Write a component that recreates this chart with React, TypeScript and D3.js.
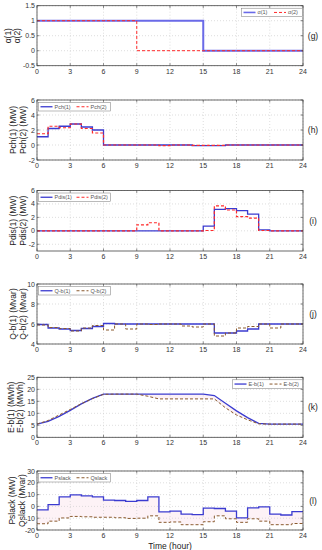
import React from "react";
import * as d3 from "d3";

const hours = d3.range(0, 25);
const xTicks = [0, 3, 6, 9, 12, 15, 18, 21, 24];

// (g)
const alpha1 = [1,1,1,1,1,1,1,1,1,1,1,1,1,1,1,0,0,0,0,0,0,0,0,0];
const alpha2 = [1,1,1,1,1,1,1,1,1,0,0,0,0,0,0,0,0,0,0,0,0,0,0,0];
// (h)
const pch1 = [1.1,2.2,2.5,2.8,2.4,2.0,0,0,0,0,0,0,0,0,-0.08,-0.08,-0.08,0,0,0,0,0,0,0];
const pch2 = [1.5,2.5,2.3,2.8,2.2,1.6,0,0,0,0,0,-0.08,0,0,-0.04,-0.04,-0.04,0,0,0,0,0,0,0];
// (i)
const pdis1 = [0,0,0,0,0,0,0,0,0,0,0,0,0,0,0,0.7,3.2,3.3,3.0,2.5,0.15,0,0,0];
const pdis2 = [0,0,0,0,0,0,0,0,0,0.9,1.2,0,0,0,0,0.05,3.7,3.1,2.1,1.9,0.05,0,0,0];
// (j)
const qb1 = [5.95,5.6,5.5,5.35,5.55,5.75,6.05,6.0,6.0,6.0,6.0,6.0,6.0,6.0,6.0,6.0,5.1,5.1,5.3,5.5,6.0,6.0,6.0,6.0];
const qb2 = [5.9,5.65,5.55,5.3,5.6,5.85,5.4,6.0,5.5,6.0,5.95,6.0,6.0,5.8,5.7,6.0,4.8,5.1,5.6,5.75,6.0,5.6,6.0,6.0];
// (k) values at each hour 0..24
const eb1 = [5.5,6.6,8.7,11.2,13.9,16.2,18,18,18,18,18,18,18,18,18,18,17.4,14.2,11.0,8.2,5.8,5.5,5.5,5.5,5.5];
const eb2 = [5.5,7.0,9.3,11.6,14.0,16.1,17.9,18,18,18,17.1,16,16,16,16,16,16,12.3,9.3,7.3,5.6,5.5,5.5,5.5,5.5];
// (l)
const pslack = [-3,1.5,8,9.8,9,8,5.4,5,4.3,5,8,-4.6,-4,-6.5,-7,-1.5,-1.8,-4,-9.8,-1.2,-0.4,-6.5,-7.3,-4.5];
const qslack = [-14.7,-12.5,-9.8,-8.5,-8.8,-9.2,-9.2,-9.6,-10.2,-10,-8,-13.5,-13.2,-15.5,-15.5,-13,-8,-10.5,-13.5,-10.5,-12.5,-15.5,-15.5,-14.5];

const FONT = "'Liberation Sans', Arial, sans-serif";
const X0 = 37, X1 = 303;

type Series = { name: string; values: number[]; color: string; dash?: string; width: number; step: boolean };
type PanelCfg = {
  top: number; bottom: number; domain: [number, number]; yTicks: number[];
  yLabels: [string, string]; labelX: [number, number]; tag: string;
  series: Series[]; legendRight: boolean; legendW: number; fill?: boolean; xTitle?: boolean;
};

const BLUE = "#3b3bd0";
const RED = "#ff2a2a";
const BROWN = "#8a5a2e";

const panels: PanelCfg[] = [
  { top: 5.7, bottom: 65.7, domain: [-0.5, 1.5], yTicks: [-0.5, 0, 0.5, 1, 1.5], yLabels: ["\u03b1(1)", "\u03b1(2)"], labelX: [8, 17], tag: "(g)", legendRight: true, legendW: 61,
    series: [ { name: "\u03b1(1)", values: alpha1, color: "#6a6ae8", width: 2, step: true }, { name: "\u03b1(2)", values: alpha2, color: RED, dash: "3,2", width: 1, step: true } ] },
  { top: 100, bottom: 160, domain: [-2, 6], yTicks: [-2, 0, 2, 4, 6], yLabels: ["Pch(1) (MW)", "Pch(2) (MW)"], labelX: [13, 23], tag: "(h)", legendRight: false, legendW: 72,
    series: [ { name: "Pch(1)", values: pch1, color: BLUE, width: 1.3, step: true }, { name: "Pch(2)", values: pch2, color: RED, dash: "3,2", width: 1.2, step: true } ] },
  { top: 190.5, bottom: 251, domain: [-3, 6], yTicks: [-2, 0, 2, 4, 6], yLabels: ["Pdis(1) (MW)", "Pdis(2) (MW)"], labelX: [13, 23], tag: "(i)", legendRight: false, legendW: 72,
    series: [ { name: "Pdis(1)", values: pdis1, color: BLUE, width: 1.3, step: true }, { name: "Pdis(2)", values: pdis2, color: RED, dash: "3,2", width: 1.2, step: true } ] },
  { top: 284, bottom: 344, domain: [4, 10], yTicks: [4, 6, 8, 10], yLabels: ["Q-b(1) (Mvar)", "Q-b(2) (Mvar)"], labelX: [13, 23], tag: "(j)", legendRight: false, legendW: 72,
    series: [ { name: "Q-b(1)", values: qb1, color: BLUE, width: 1.3, step: true }, { name: "Q-b(2)", values: qb2, color: BROWN, dash: "3,2", width: 1, step: true } ] },
  { top: 377.3, bottom: 437.3, domain: [0, 25], yTicks: [0, 5, 10, 15, 20, 25], yLabels: ["E-b(1) (MWh)", "E-b(2) (MWh)"], labelX: [11, 20], tag: "(k)", legendRight: true, legendW: 70, fill: true,
    series: [ { name: "E-b(1)", values: eb1, color: BLUE, width: 1.3, step: false }, { name: "E-b(2)", values: eb2, color: BROWN, dash: "3,2", width: 1, step: false } ] },
  { top: 471, bottom: 530, domain: [-20, 30], yTicks: [-20, -10, 0, 10, 20, 30], yLabels: ["Pslack (MW)", "Qslack (Mvar)"], labelX: [12, 22], tag: "(l)", legendRight: false, legendW: 72, fill: true, xTitle: true,
    series: [ { name: "Pslack", values: pslack, color: BLUE, width: 1.3, step: true }, { name: "Qslack", values: qslack, color: BROWN, dash: "3,2", width: 1, step: true } ] },
];

function Panel({ cfg }: { cfg: PanelCfg }) {
  const x = d3.scaleLinear().domain([0, 24]).range([X0, X1]);
  const y = d3.scaleLinear().domain(cfg.domain).range([cfg.bottom, cfg.top]);
  const mkPts = (s: Series) => (s.step ? [...s.values, s.values[s.values.length - 1]] : s.values).map((v, i) => [hours[i], v] as [number, number]);
  const line = (s: Series) => d3.line<[number, number]>().x(d => x(d[0])).y(d => y(d[1])).curve(s.step ? d3.curveStepAfter : d3.curveLinear)(mkPts(s)) || "";
  const midY = (cfg.top + cfg.bottom) / 2;
  let fillPath = "";
  if (cfg.fill) {
    const a = mkPts(cfg.series[0]);
    const b = mkPts(cfg.series[1]);
    const area = d3.area<number>().x(i => x(a[i][0])).y0(i => y(a[i][1])).y1(i => y(b[i][1])).curve(cfg.series[0].step ? d3.curveStepAfter : d3.curveLinear);
    fillPath = area(d3.range(a.length)) || "";
  }
  const lx = cfg.legendRight ? X1 - cfg.legendW - 0.5 : X0 + 1.5;
  const ly = cfg.top + 2.5;
  const lh = 8.5;
  return (
    <g>
      <rect x={X0} y={cfg.top} width={X1 - X0} height={cfg.bottom - cfg.top} fill="#fff" />
      {fillPath && <path d={fillPath} fill="#fbe6ee" opacity={0.5} />}
      {xTicks.map(t => (
        <line key={"gx" + t} x1={x(t)} x2={x(t)} y1={cfg.top} y2={cfg.bottom} stroke="#c8c8c8" strokeWidth={0.6} strokeDasharray="1,2" />
      ))}
      {cfg.yTicks.map(t => (
        <line key={"gy" + t} x1={X0} x2={X1} y1={y(t)} y2={y(t)} stroke="#c8c8c8" strokeWidth={0.6} strokeDasharray="1,2" />
      ))}
      {cfg.series.map((s, i) => (
        <path key={i} d={line(s)} fill="none" stroke={s.color} strokeWidth={s.width} strokeDasharray={s.dash} />
      ))}
      <rect x={X0} y={cfg.top} width={X1 - X0} height={cfg.bottom - cfg.top} fill="none" stroke="#444" strokeWidth={0.8} />
      {xTicks.map(t => (
        <g key={"tx" + t}>
          <line x1={x(t)} x2={x(t)} y1={cfg.bottom} y2={cfg.bottom - 2.5} stroke="#444" strokeWidth={0.6} />
          <line x1={x(t)} x2={x(t)} y1={cfg.top} y2={cfg.top + 2.5} stroke="#444" strokeWidth={0.6} />
          <text x={x(t)} y={cfg.bottom + 8} fontSize={7} textAnchor="middle" fill="#333" fontFamily={FONT}>{t}</text>
        </g>
      ))}
      {cfg.yTicks.map(t => (
        <g key={"ty" + t}>
          <line x1={X0} x2={X0 + 2.5} y1={y(t)} y2={y(t)} stroke="#444" strokeWidth={0.6} />
          <line x1={X1} x2={X1 - 2.5} y1={y(t)} y2={y(t)} stroke="#444" strokeWidth={0.6} />
          <text x={X0 - 2} y={y(t) + 2.5} fontSize={7} textAnchor="end" fill="#333" fontFamily={FONT}>{t}</text>
        </g>
      ))}
      {cfg.yLabels.map((lab, i) => (
        <text key={"yl" + i} transform={`translate(${cfg.labelX[i] + 3},${midY}) rotate(-90)`} fontSize={8.5} textAnchor="middle" fill="#222" fontFamily={FONT}>{lab}</text>
      ))}
      <text x={313} y={midY + 3} fontSize={8.5} textAnchor="middle" fill="#222" fontFamily={FONT}>{cfg.tag}</text>
      <rect x={lx} y={ly} width={cfg.legendW} height={lh} fill="#fff" stroke="#777" strokeWidth={0.5} />
      {cfg.series.map((s, i) => {
        const seg = cfg.legendW / 2;
        const sx = lx + 2 + i * seg;
        return (
          <g key={"lg" + i}>
            <line x1={sx} x2={sx + 12} y1={ly + lh / 2} y2={ly + lh / 2} stroke={s.color} strokeWidth={Math.min(s.width, 1.6)} strokeDasharray={s.dash} />
            <text x={sx + 14} y={ly + lh / 2 + 2} fontSize={5.5} fill="#555" fontFamily={FONT}>{s.name}</text>
          </g>
        );
      })}
      {cfg.xTitle && <text x={(X0 + X1) / 2} y={548.5} fontSize={8.5} textAnchor="middle" fill="#222" fontFamily={FONT}>Time (hour)</text>}
    </g>
  );
}

export default function App() {
  return (
    <svg width={322} height={550} style={{ position: "absolute", left: 0, top: 0, background: "#fff" }}>
      <rect width={322} height={550} fill="#fff" />
      {panels.map((p, i) => <Panel key={i} cfg={p} />)}
    </svg>
  );
}
